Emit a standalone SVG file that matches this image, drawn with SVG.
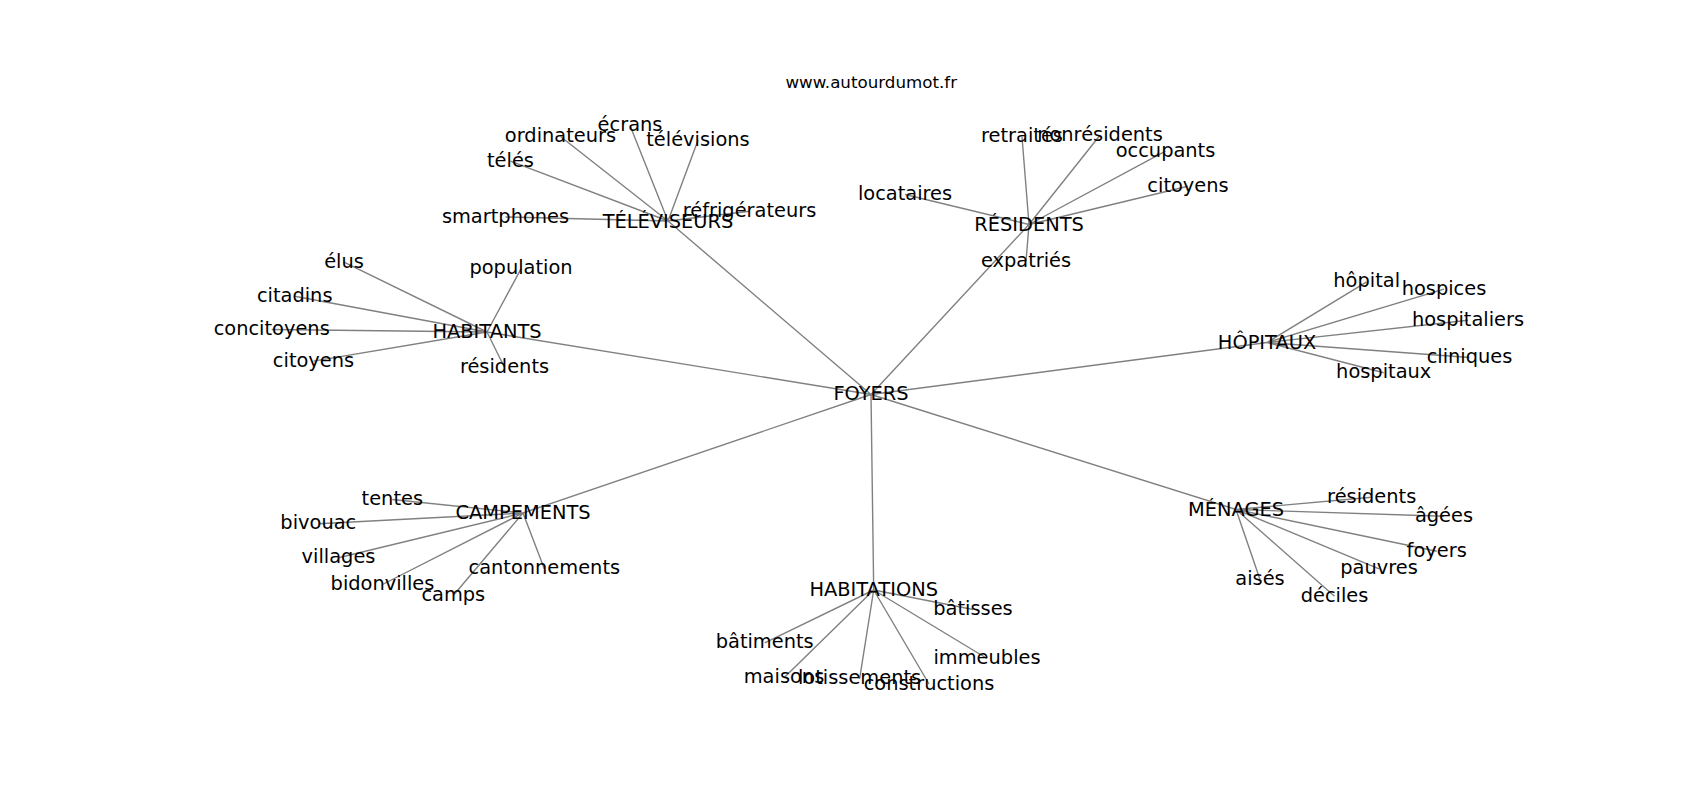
<svg xmlns="http://www.w3.org/2000/svg" width="1700" height="800" viewBox="0 0 1700 800">
<style>
.bg{fill:#ffffff}
.e{stroke:#808080;stroke-width:1.4;fill:none}
.t{font-family:"DejaVu Sans","Liberation Sans",sans-serif;font-size:19.4px;fill:#000;text-anchor:middle}
.title{font-family:"DejaVu Sans","Liberation Sans",sans-serif;font-size:16.7px;fill:#000;text-anchor:middle}
</style>
<rect class="bg" x="0" y="0" width="1700" height="800"/>
<text class="title" x="871.25" y="88">www.autourdumot.fr</text>
<g id="edges">
<path class="e" d="M871,394.5L668,221M871,394.5L1029,224.5M871,394.5L487,332M871,394.5L1267,342.5M871,394.5L523,513M871,394.5L873.7,590M871,394.5L1236,509.5"/>
<path class="e" d="M668,221L560.5,136.5M668,221L630,125.5M668,221L698,140.2M668,221L510.5,161.2M668,221L505.5,217M668,221L749.5,211.2"/>
<path class="e" d="M1029,224.5L1022,136.8M1029,224.5L1100,135.2M1029,224.5L1165.5,151.2M1029,224.5L1188,186.2M1029,224.5L905,194.5M1029,224.5L1026,261.5"/>
<path class="e" d="M487,332L344,262.2M487,332L294.7,296.2M487,332L271.7,329.5M487,332L313.5,361.1M487,332L521,268.8M487,332L504.5,367.5"/>
<path class="e" d="M1267,342.5L1366.7,281.8M1267,342.5L1444,289.2M1267,342.5L1468,320.2M1267,342.5L1469.5,357.5M1267,342.5L1383.7,372.8"/>
<path class="e" d="M523,513L392.3,499.5M523,513L318.3,523.8M523,513L338.5,557.8M523,513L382.5,584.5M523,513L453.3,595.5M523,513L544.3,568.8"/>
<path class="e" d="M873.7,590L973,609.5M873.7,590L764.7,642.8M873.7,590L987,658.5M873.7,590L784,677.8M873.7,590L859.6,678.8M873.7,590L929,684"/>
<path class="e" d="M1236,509.5L1371.7,497.2M1236,509.5L1444,516.2M1236,509.5L1436.7,551.2M1236,509.5L1379,568.8M1236,509.5L1260,579.5M1236,509.5L1334.5,596.2"/>
</g>
<g id="n-foyers"><text class="t" x="871" y="400">FOYERS</text></g>
<g id="n-televiseurs"><text class="t" x="668" y="228">TÉLÉVISEURS</text></g>
<g id="n-residents"><text class="t" x="1029" y="231">RÉSIDENTS</text></g>
<g id="n-habitants"><text class="t" x="487" y="337.5">HABITANTS</text></g>
<g id="n-hopitaux"><text class="t" x="1267" y="349">HÔPITAUX</text></g>
<g id="n-campements"><text class="t" x="523" y="518.5">CAMPEMENTS</text></g>
<g id="n-habitations"><text class="t" x="873.7" y="595.5">HABITATIONS</text></g>
<g id="n-menages"><text class="t" x="1236" y="516">MÉNAGES</text></g>
<g id="n-ordinateurs"><text class="t" x="560.5" y="142">ordinateurs</text></g>
<g id="n-ecrans"><text class="t" x="630" y="131">écrans</text></g>
<g id="n-televisions"><text class="t" x="698" y="145.7">télévisions</text></g>
<g id="n-teles"><text class="t" x="510.5" y="166.7">télés</text></g>
<g id="n-smartphones"><text class="t" x="505.5" y="222.5">smartphones</text></g>
<g id="n-refrigerateurs"><text class="t" x="749.5" y="216.7">réfrigérateurs</text></g>
<g id="n-retraites"><text class="t" x="1022" y="142.3">retraités</text></g>
<g id="n-nonresidents"><text class="t" x="1100" y="140.7">nonrésidents</text></g>
<g id="n-occupants"><text class="t" x="1165.5" y="156.7">occupants</text></g>
<g id="n-citoyens-r"><text class="t" x="1188" y="191.7">citoyens</text></g>
<g id="n-locataires"><text class="t" x="905" y="200">locataires</text></g>
<g id="n-expatries"><text class="t" x="1026" y="267">expatriés</text></g>
<g id="n-elus"><text class="t" x="344" y="267.7">élus</text></g>
<g id="n-citadins"><text class="t" x="294.7" y="301.7">citadins</text></g>
<g id="n-concitoyens"><text class="t" x="271.7" y="335">concitoyens</text></g>
<g id="n-citoyens-h"><text class="t" x="313.5" y="366.6">citoyens</text></g>
<g id="n-population"><text class="t" x="521" y="274.3">population</text></g>
<g id="n-residents-h"><text class="t" x="504.5" y="373">résidents</text></g>
<g id="n-hopital"><text class="t" x="1366.7" y="287.3">hôpital</text></g>
<g id="n-hospices"><text class="t" x="1444" y="294.7">hospices</text></g>
<g id="n-hospitaliers"><text class="t" x="1468" y="325.7">hospitaliers</text></g>
<g id="n-cliniques"><text class="t" x="1469.5" y="363">cliniques</text></g>
<g id="n-hospitaux"><text class="t" x="1383.7" y="378.3">hospitaux</text></g>
<g id="n-tentes"><text class="t" x="392.3" y="505">tentes</text></g>
<g id="n-bivouac"><text class="t" x="318.3" y="529.3">bivouac</text></g>
<g id="n-villages"><text class="t" x="338.5" y="563.3">villages</text></g>
<g id="n-bidonvilles"><text class="t" x="382.5" y="590">bidonvilles</text></g>
<g id="n-camps"><text class="t" x="453.3" y="601">camps</text></g>
<g id="n-cantonnements"><text class="t" x="544.3" y="574.3">cantonnements</text></g>
<g id="n-batisses"><text class="t" x="973" y="615">bâtisses</text></g>
<g id="n-batiments"><text class="t" x="764.7" y="648.3">bâtiments</text></g>
<g id="n-immeubles"><text class="t" x="987" y="664">immeubles</text></g>
<g id="n-maisons"><text class="t" x="784" y="683.3">maisons</text></g>
<g id="n-lotissements"><text class="t" x="859.6" y="684.3">lotissements</text></g>
<g id="n-constructions"><text class="t" x="929" y="689.5">constructions</text></g>
<g id="n-residents-m"><text class="t" x="1371.7" y="502.7">résidents</text></g>
<g id="n-agees"><text class="t" x="1444" y="521.7">âgées</text></g>
<g id="n-foyers-m"><text class="t" x="1436.7" y="556.7">foyers</text></g>
<g id="n-pauvres"><text class="t" x="1379" y="574.3">pauvres</text></g>
<g id="n-aises"><text class="t" x="1260" y="585">aisés</text></g>
<g id="n-deciles"><text class="t" x="1334.5" y="601.7">déciles</text></g>
</svg>
